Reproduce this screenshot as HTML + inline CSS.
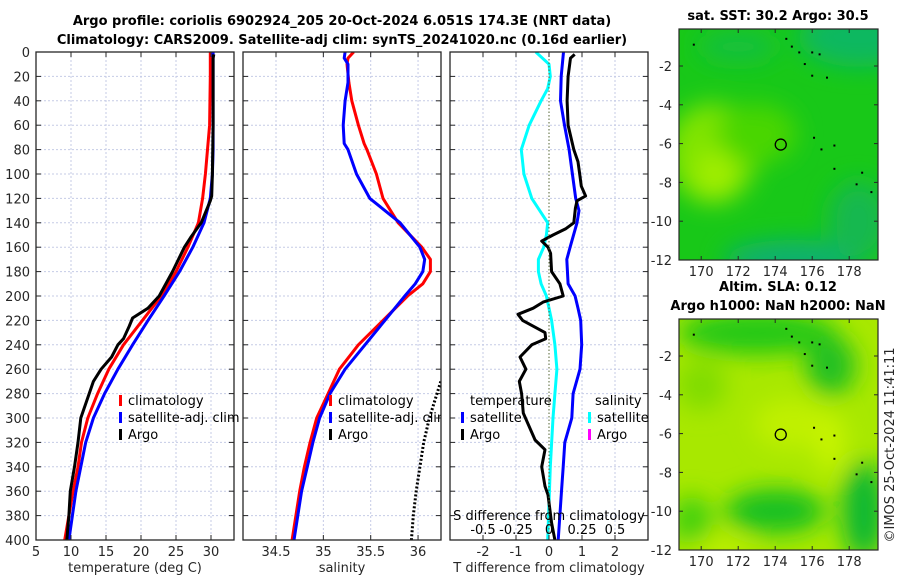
<!DOCTYPE html>
<html><head><meta charset="utf-8"><style>
body{margin:0;background:#fff;width:900px;height:580px;overflow:hidden}
svg{display:block;font-family:"DejaVu Sans","Liberation Sans",sans-serif}
</style></head><body>
<svg id="fig" width="900" height="580" viewBox="0 0 900 580" xmlns="http://www.w3.org/2000/svg">
<defs>
<clipPath id="c1"><rect x="36" y="52" width="198" height="488"/></clipPath>
<clipPath id="c2"><rect x="243" y="52" width="198" height="488"/></clipPath>
<clipPath id="c3"><rect x="450" y="52" width="198" height="488"/></clipPath>
<clipPath id="cm1"><rect x="679" y="29" width="199" height="231"/></clipPath>
<clipPath id="cm2"><rect x="679" y="319" width="199" height="231"/></clipPath>
<filter id="blur" x="-50%" y="-50%" width="200%" height="200%"><feGaussianBlur stdDeviation="12"/></filter>
</defs>
<g id="root"></g>
</svg>
<script>
// ---- data ----
const tempDepths = [0,20,60,80,100,120,140,160,180,200,220,240,260,280,300,320,340,360,380,400];
const tempClim   = [29.9,29.9,29.8,29.5,29.2,28.8,28.2,26.7,25.0,22.9,20.2,17.5,15.4,13.8,12.4,11.5,11.0,10.3,9.7,9.1];
const tempSat    = [30.3,30.3,30.3,30.3,30.2,29.9,29.0,27.4,25.5,23.3,21.0,18.8,16.7,14.8,13.2,12.1,11.4,10.7,10.2,9.7];
const argoTDepths= [2,5,20,60,100,118,122,140,152,160,180,200,210,218,225,235,240,250,260,270,280,300,320,340,360,380,400];
const argoTemp   = [30.4,30.3,30.3,30.3,30.2,30.1,29.9,28.6,27.1,26.2,24.5,22.6,21.0,18.8,18.3,17.5,16.7,15.8,14.3,13.2,12.6,11.4,11.0,10.5,9.9,9.7,9.4];
const salDepths  = [0,5,10,25,40,60,75,80,100,120,140,160,170,180,190,200,220,240,260,280,300,320,340,360,380,400];
const salClim    = [35.32,35.26,35.25,35.27,35.30,35.37,35.43,35.46,35.56,35.63,35.79,36.04,36.13,36.13,36.05,35.89,35.63,35.37,35.17,35.05,34.93,34.86,34.80,34.75,34.71,34.67];
const salSat     = [35.23,35.22,35.26,35.26,35.23,35.21,35.22,35.26,35.35,35.49,35.81,36.02,36.07,36.05,35.97,35.86,35.65,35.44,35.23,35.07,34.96,34.89,34.83,34.77,34.73,34.69];
const argoSDepths= [270,280,300,320,340,360,380,400];
const argoSal    = [36.24,36.2,36.12,36.06,36.02,35.98,35.95,35.93];
const dTDepths   = [0,20,40,60,80,100,120,130,140,160,170,190,200,210,220,240,260,280,300,320,340,360,400];
const dTSat      = [0.44,0.37,0.35,0.47,0.61,0.71,0.81,0.91,0.85,0.64,0.54,0.58,0.79,0.88,0.96,0.99,0.94,0.73,0.69,0.48,0.43,0.38,0.28];
const dTArgoDepths=[2,5,20,40,60,80,90,100,110,118,122,128,140,145,150,155,160,165,180,190,200,205,210,215,220,230,235,240,250,260,270,280,296,318,326,340,356,363,386,400];
const dTArgo     = [0.78,0.65,0.58,0.55,0.58,0.75,0.88,0.93,0.98,1.11,0.85,0.8,0.75,0.5,0.12,-0.22,-0.03,0.05,0.08,0.33,0.43,-0.18,-0.48,-0.94,-0.8,-0.12,-0.1,-0.52,-0.88,-0.7,-0.9,-0.83,-0.78,-0.42,-0.12,-0.22,-0.12,-0.03,0.08,0.18];
const dSDepths   = [0,10,20,30,40,60,80,100,120,140,150,160,170,180,190,200,220,240,260,280,300,340,400];
const dSSat      = [-0.10,0,0.01,-0.01,-0.06,-0.15,-0.21,-0.19,-0.13,-0.01,-0.02,-0.04,-0.08,-0.08,-0.06,-0.02,0.02,0.045,0.06,0.045,0.03,0.01,-0.01];
const depthTicks = [0,20,40,60,80,100,120,140,160,180,200,220,240,260,280,300,320,340,360,380,400];
const tTicks = [5,10,15,20,25,30];
const sTicks = [34.5,35,35.5,36];
const dTTicks = [-2,-1,0,1,2];
const dSTickLabels = ['-0.5','-0.25','0','0.25','0.5'];
const latTicks = [-2,-4,-6,-8,-10,-12];
const lonTicks = [170,172,174,176,178];
const argoLon = 174.3, argoLat = -6.05;
const islandLon = [169.6,174.6,174.9,175.3,175.6,176.0,176.4,176.0,176.8,176.1,176.5,177.2,177.2,178.4,178.7,179.2];
const islandLat = [-0.9,-0.6,-1.0,-1.3,-1.9,-1.3,-1.4,-2.5,-2.6,-5.7,-6.3,-6.1,-7.3,-8.1,-7.5,-8.5];

// ---- scales ----
const Y0=52, Y1=540;
const yD = d => Y0 + d*(Y1-Y0)/400;
const xT = t => 36 + (t-5)*7;
const xS = s => 276 + (s-34.5)*94.7;
const xDT = d => 549 + d*33;
const xDS = s => 549 + s*132;
const NS='http://www.w3.org/2000/svg';
const root=document.getElementById('root');
function mk(tag, attrs, parent, text){
  const e=document.createElementNS(NS,tag);
  for(const k in attrs) e.setAttribute(k,attrs[k]);
  if(text!==undefined) e.textContent=text;
  (parent||root).appendChild(e); return e;
}
const TC='#262626';

function panel(x0, name, vgrid, clip){
  const g=mk('g',{});
  
  
  depthTicks.forEach(d=>{ if(d>0&&d<400) mk('line',{x1:x0,x2:x0+198,y1:yD(d),y2:yD(d),stroke:'#c5cbe6','stroke-width':1,'stroke-dasharray':'2,2'},g); });
  vgrid.forEach(x=>mk('line',{x1:x,x2:x,y1:Y0,y2:Y1,stroke:'#c5cbe6','stroke-width':1,'stroke-dasharray':'2,2'},g));
  depthTicks.forEach(d=>{
    mk('line',{x1:x0,x2:x0+5,y1:yD(d),y2:yD(d),stroke:TC},g);
    mk('line',{x1:x0+193,x2:x0+198,y1:yD(d),y2:yD(d),stroke:TC},g);
  });
  const inner=mk('g',{'clip-path':'url(#'+clip+')'},g);
  return {g,inner};
}
function line(xs, ds, fx, color, parent, name, dash, w){
  const pts=xs.map((v,i)=>fx(v).toFixed(1)+','+yD(ds[i]).toFixed(1)).join(' ');
  const p=mk('polyline',{points:pts,fill:'none',stroke:color,'stroke-width':w||3,'stroke-linejoin':'round'},parent);
  if(dash) p.setAttribute('stroke-dasharray',dash);
  
  
  return p;
}

// Panel 1
const p1=panel(36,'temperature-panel',tTicks.slice(1).map(xT),'c1');
line(tempClim,tempDepths,xT,'#ff0000',p1.inner,'temp-climatology-line');
line(tempSat,tempDepths,xT,'#0000ff',p1.inner,'temp-satellite-line');
line(argoTemp,argoTDepths,xT,'#000000',p1.inner,'temp-argo-line');
depthTicks.forEach(d=>{ const t=mk('text',{x:30,y:yD(d)+5,'text-anchor':'end','font-size':13,fill:TC},root,String(d));   });
tTicks.forEach(t=>{ mk('line',{x1:xT(t),x2:xT(t),y1:Y1,y2:Y1-5,stroke:TC}); mk('line',{x1:xT(t),x2:xT(t),y1:Y0,y2:Y0+5,stroke:TC}); const e=mk('text',{x:xT(t),y:556,'text-anchor':'middle','font-size':13,fill:TC},root,String(t));   });
mk('text',{x:135,y:572,'text-anchor':'middle','font-size':13,fill:TC,},root,'temperature (deg C)');

// Panel 2
const p2=panel(243,'salinity-panel',sTicks.map(xS),'c2');
line(salClim,salDepths,xS,'#ff0000',p2.inner,'sal-climatology-line');
line(salSat,salDepths,xS,'#0000ff',p2.inner,'sal-satellite-line');
line(argoSal,argoSDepths,xS,'#000000',p2.inner,'sal-argo-line','2,2');
sTicks.forEach(s=>{ mk('line',{x1:xS(s),x2:xS(s),y1:Y1,y2:Y1-5,stroke:TC}); mk('line',{x1:xS(s),x2:xS(s),y1:Y0,y2:Y0+5,stroke:TC}); const e=mk('text',{x:xS(s),y:556,'text-anchor':'middle','font-size':13,fill:TC},root,String(s));   });
mk('text',{x:342,y:572,'text-anchor':'middle','font-size':13,fill:TC,},root,'salinity');

// Panel 3
const p3=panel(450,'difference-panel',dTTicks.filter(v=>v!==0).map(xDT),'c3');
mk('line',{x1:549,x2:549,y1:Y0,y2:Y1,stroke:'#556633','stroke-width':1,'stroke-dasharray':'1.5,2',},p3.g);
line(dSSat,dSDepths,xDS,'#00ffff',p3.inner,'sal-diff-satellite-line');
line(dTSat,dTDepths,xDT,'#0000ff',p3.inner,'temp-diff-satellite-line');
line(dTArgo,dTArgoDepths,xDT,'#000000',p3.inner,'temp-diff-argo-line');
dTTicks.forEach(t=>{ mk('line',{x1:xDT(t),x2:xDT(t),y1:Y1,y2:Y1-5,stroke:TC}); mk('line',{x1:xDT(t),x2:xDT(t),y1:Y0,y2:Y0+5,stroke:TC}); const e=mk('text',{x:xDT(t),y:556,'text-anchor':'middle','font-size':13,fill:TC},root,String(t));   });
dSTickLabels.forEach((s,i)=>{ const e=mk('text',{x:xDT(dTTicks[i]),y:534,'text-anchor':'middle','font-size':13,fill:'#000'},root,s);   });
mk('text',{x:549,y:520,'text-anchor':'middle','font-size':13,fill:'#000',},root,'S difference from climatology');
mk('text',{x:549,y:572,'text-anchor':'middle','font-size':13,fill:TC,},root,'T difference from climatology');

// frames
[36,243,450].forEach(x=>mk('rect',{x:x,y:Y0,width:198,height:488,fill:'none',stroke:TC,'stroke-width':1.3,}));

// legends
function legItem(x,y,color,label,name){
  const g=mk('g',{});
  
  
  mk('rect',{x:x,y:y-10,width:3,height:11,fill:color},g);
  mk('text',{x:x+9,y:y,'font-size':13,fill:'#000'},g,label);
}
legItem(119,405,'#ff0000','climatology','legend-climatology');
legItem(119,422,'#0000ff','satellite-adj. clim','legend-satellite');
legItem(119,439,'#000000','Argo','legend-argo');
const lg2=mk('g',{'clip-path':'url(#c2)'});
[['#ff0000','climatology',405],['#0000ff','satellite-adj. clim',422],['#000000','Argo',439]].forEach(a=>{mk('rect',{x:329,y:a[2]-10,width:3,height:11,fill:a[0]},lg2);mk('text',{x:338,y:a[2],'font-size':13,fill:'#000'},lg2,a[1]);});
mk('text',{x:470,y:405,'font-size':13,fill:'#000'},root,'temperature');
legItem(461,422,'#0000ff','satellite','legend-temp-satellite');
legItem(461,439,'#000000','Argo','legend-temp-argo');
mk('text',{x:595,y:405,'font-size':13,fill:'#000'},root,'salinity');
legItem(588,422,'#00ffff','satellite','legend-sal-satellite');
legItem(588,439,'#ff00ff','Argo','legend-sal-argo');

// titles
mk('text',{x:342,y:25,'text-anchor':'middle','font-size':13,'font-weight':'bold',fill:'#000',},root,'Argo profile: coriolis 6902924_205 20-Oct-2024 6.051S 174.3E (NRT data)');
mk('text',{x:342,y:44,'text-anchor':'middle','font-size':13,'font-weight':'bold',fill:'#000',},root,'Climatology: CARS2009. Satellite-adj clim: synTS_20241020.nc (0.16d earlier)');

// maps
const LON0=168.8, LON1=179.55;
function mapPanel(y0, name, clip, base, blobs, title){
  const g=mk('g',{});
  
  
  const xL = l => 679 + (l-LON0)*18.5;
  const yL = la => y0 + 37 + (-2-la)*19.4;
  const inner=mk('g',{'clip-path':'url(#'+clip+')'},g);
  mk('rect',{x:679,y:y0,width:199,height:231,fill:base},inner);
  const bg=mk('g',{filter:'url(#blur)'},inner);
  blobs.forEach(b=>mk('ellipse',{cx:xL(b[0]),cy:yL(b[1]),rx:b[2],ry:b[3],fill:b[4]},bg));
  islandLon.forEach((l,i)=>mk('rect',{x:xL(l)-1,y:yL(islandLat[i])-1,width:2,height:2,fill:'#000'},inner));
  const c=mk('circle',{cx:xL(argoLon),cy:yL(argoLat),r:5.5,fill:'none',stroke:'#000','stroke-width':1.3},g);
  
  
  mk('rect',{x:679,y:y0,width:199,height:231,fill:'none',stroke:TC,'stroke-width':1.2},g);
  latTicks.forEach(la=>{ mk('line',{x1:679,x2:683,y1:yL(la),y2:yL(la),stroke:TC},g); mk('line',{x1:874,x2:878,y1:yL(la),y2:yL(la),stroke:TC},g); mk('text',{x:672,y:yL(la)+5,'text-anchor':'end','font-size':13,fill:TC},g,String(la)); });
  lonTicks.forEach(l=>{ mk('line',{x1:xL(l),x2:xL(l),y1:y0+231,y2:y0+227,stroke:TC},g); mk('line',{x1:xL(l),x2:xL(l),y1:y0,y2:y0+4,stroke:TC},g); mk('text',{x:xL(l),y:y0+247,'text-anchor':'middle','font-size':13,fill:TC},g,String(l)); });
  title.forEach((t,i)=>mk('text',{x:778,y:t[1],'text-anchor':'middle','font-size':13,'font-weight':'bold',fill:'#000'},g,t[0]));
}
mapPanel(29,'sst-map','cm1','#18c818',[
  [170.6,-6.5,45,50,'#80e400'],[170.8,-7.6,20,25,'#a0ee00'],[173,-5.5,40,30,'#48d600'],
  [178.5,-0.5,60,30,'#10b860'],[175,-12,70,20,'#10b070'],[178.5,-10,30,40,'#18b850'],[172,-1,40,15,'#14c040']
],[['sat. SST: 30.2 Argo: 30.5',20]]);
mapPanel(319,'sla-map','cm2','#a8e800',[
  [173,-0.8,80,22,'#20c818'],[177,-2.5,25,30,'#20c020'],[174,-10,50,22,'#18c020'],[178.8,-10,22,50,'#10b830'],
  [169.5,-10.5,20,25,'#40d010'],[175,-5.5,40,25,'#c0f000'],[177,-6.5,15,30,'#c8f400'],[171,-12,30,12,'#c0f000'],[170,-3.5,25,25,'#80dc00']
],[['Altim. SLA: 0.12',291],['Argo h1000: NaN h2000: NaN',310]]);

const cr=mk('text',{x:0,y:0,'font-size':13,fill:TC,'text-anchor':'middle',transform:'translate(894,445) rotate(-90)'},root,'©IMOS 25-Oct-2024 11:41:11');


</script>
</body></html>
